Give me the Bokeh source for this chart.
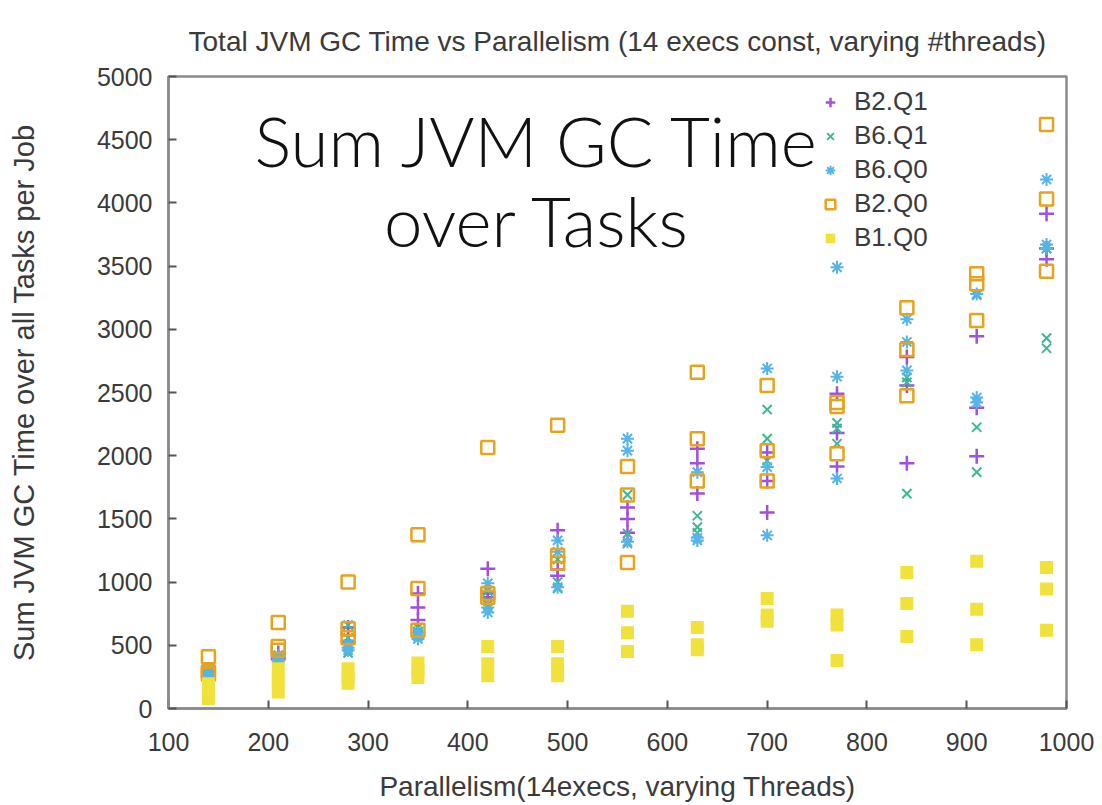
from bokeh.plotting import figure
from bokeh.models import Range1d, Legend, LegendItem, Label, FixedTicker
from bokeh.embed import file_html
from bokeh.resources import INLINE

# ---------------- data ----------------
parallelism = [140, 210, 280, 350, 420, 490, 560, 630, 700, 770, 840, 910, 980]

b2_q1 = [[290, 280, 260], [440, 410, 390], [640, 580, 530], [910, 800, 700],
         [1105, 910, 880], [1410, 1100, 1050], [1590, 1500, 1390], [2055, 1940, 1700],
         [2025, 1800, 1550], [2490, 2180, 1915], [2780, 2555, 1940], [2945, 2380, 1995],
         [3915, 3640, 3555]]
b6_q1 = [[290, 270, 250], [420, 400, 380], [660, 560, 440], [640, 610, 590],
         [930, 850, 820], [1180, 1000, 950], [1690, 1385, 1305], [1525, 1435, 1390],
         [2365, 2135, 1960], [2260, 2215, 2095], [2620, 2580, 1700], [3270, 2225, 1870],
         [3640, 2930, 2850]]
b6_q0 = [[300, 280, 260], [420, 390, 370], [510, 480, 460], [600, 570, 550],
         [990, 800, 760], [1330, 1240, 960], [2135, 2040, 1320], [1870, 1350, 1330],
         [2690, 1910, 1370], [3490, 2625, 1820], [3080, 2900, 2675], [3280, 2460, 2420],
         [4185, 3670, 3640]]
b2_q0 = [[410, 290, 270], [680, 490, 460], [1000, 630, 560], [1375, 950, 620],
         [2065, 910, 880], [2240, 1210, 1150], [1915, 1690, 1155], [2660, 2135, 1800],
         [2555, 2040, 1800], [2420, 2390, 2015], [3170, 2840, 2475], [3440, 3360, 3070],
         [4620, 4030, 3460]]
b1_q0 = [[195, 140, 80], [315, 220, 130], [315, 250, 200], [360, 300, 245],
         [490, 355, 260], [490, 355, 260], [770, 600, 450], [640, 505, 465],
         [870, 740, 690], [740, 660, 380], [1075, 830, 570], [1165, 785, 505],
         [1115, 945, 620]]

series_names = ["B2.Q1", "B6.Q1", "B6.Q0", "B2.Q0", "B1.Q0"]
series_vals = [b2_q1, b6_q1, b6_q0, b2_q0, b1_q0]

x_ticks = [100, 200, 300, 400, 500, 600, 700, 800, 900, 1000]
y_ticks = [0, 500, 1000, 1500, 2000, 2500, 3000, 3500, 4000, 4500, 5000]

title_text = "Total JVM GC Time vs Parallelism (14 execs const, varying #threads)"
x_label = "Parallelism(14execs, varying Threads)"
y_label = "Sum JVM GC Time over all Tasks per Job"
note_lines = ["Sum JVM GC Time", "over Tasks"]

# ---------------- styles ----------------
styles = [
    dict(marker="cross", color="#a04fe0", size=15, fill=False, lw=2.5),
    dict(marker="x", color="#3cb893", size=13, fill=False, lw=2.0),
    dict(marker="asterisk", color="#56b4e9", size=13, fill=False, lw=2.0),
    dict(marker="square", color="#e8a21c", size=13, fill=False, lw=2.5),
    dict(marker="square", color="#f0e23a", size=13, fill=True, lw=0),
]

FONT = "Liberation Sans"
TXT = "#3a3a3a"

p = figure(width=1102, height=805, output_backend="svg", toolbar_location=None,
           x_range=Range1d(100, 1000), y_range=Range1d(0, 5000),
           min_border_left=168, min_border_right=36, min_border_top=76, min_border_bottom=97)
p.title.text = title_text
p.title.align = "center"
p.title.text_font = FONT
p.title.text_font_size = "28px"
p.title.text_font_style = "normal"
p.title.text_color = TXT
p.title.standoff = 40

p.grid.visible = False
p.background_fill_color = "white"
p.border_fill_color = "white"
p.outline_line_color = "#8a8a8a"
p.outline_line_width = 2.5

xax = p.below[0]
yax = p.left[0]
for ax in (xax, yax):
    ax.axis_line_color = "#8a8a8a"
    ax.axis_line_width = 2.5
    ax.major_tick_in = 8
    ax.major_tick_out = 0
    ax.major_tick_line_color = "#555555"
    ax.major_tick_line_width = 2
    ax.minor_tick_line_color = None
    ax.major_label_text_font = FONT
    ax.major_label_text_font_size = "25px"
    ax.major_label_text_color = TXT
    ax.axis_label_text_font = FONT
    ax.axis_label_text_font_style = "normal"
    ax.axis_label_text_color = TXT

xax.axis_label_text_font_size = "28px"
yax.axis_label_text_font_size = "29px"
xax.ticker = FixedTicker(ticks=x_ticks)
yax.ticker = FixedTicker(ticks=y_ticks)
xax.axis_label = x_label
yax.axis_label = y_label
xax.major_label_standoff = 24
yax.major_label_standoff = 16
xax.axis_label_standoff = 17
yax.axis_label_standoff = 54

items = []
for name, vals, st in zip(series_names, series_vals, styles):
    xs, ys = [], []
    for xv, group in zip(parallelism, vals):
        for yv in group:
            xs.append(xv)
            ys.append(yv)
    r = p.scatter(xs, ys, marker=st["marker"], size=st["size"],
                  line_color=st["color"], line_width=st["lw"] if st["lw"] else 1,
                  fill_color=st["color"] if st["fill"] else None,
                  line_alpha=1.0 if st["lw"] else 0.0)
    items.append(LegendItem(label=name, renderers=[r]))

legend = Legend(items=items, location=(650, 455), border_line_color=None,
                background_fill_alpha=0, label_text_font=FONT, label_text_font_size="26px",
                label_text_color=TXT, spacing=3, glyph_width=24, glyph_height=24,
                margin=0, padding=6, label_standoff=12, label_height=24)
p.add_layout(legend, "center")

for i, line in enumerate(note_lines):
    p.add_layout(Label(x=470, y=[4490, 3860][i], text=line, text_align="center",
                       text_baseline="middle", text_font="Lato Light",
                       text_font_size="69px", text_color="#111111"))

html = file_html(p, INLINE)
open("out.html", "w").write(html)
